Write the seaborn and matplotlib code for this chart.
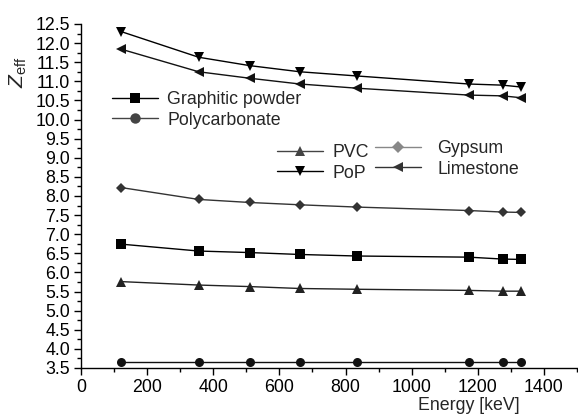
import matplotlib
matplotlib.use("Agg")
import matplotlib.pyplot as plt
from matplotlib.ticker import MultipleLocator, FormatStrFormatter
from matplotlib.lines import Line2D
import seaborn as sns
import pandas as pd

energy = [122, 356, 511, 662, 835, 1173, 1275, 1332]
graphitic_powder = [6.74, 6.56, 6.52, 6.47, 6.43, 6.40, 6.35, 6.34]
polycarbonate = [3.67, 3.67, 3.67, 3.67, 3.67, 3.67, 3.67, 3.67]
pvc = [5.76, 5.67, 5.63, 5.58, 5.56, 5.53, 5.51, 5.51]
pop = [12.30, 11.63, 11.41, 11.25, 11.14, 10.93, 10.90, 10.85]
gypsum = [8.22, 7.91, 7.83, 7.77, 7.71, 7.62, 7.58, 7.57]
limestone = [11.84, 11.25, 11.08, 10.93, 10.82, 10.64, 10.62, 10.57]

series = {
    "Graphitic powder": graphitic_powder,
    "Polycarbonate": polycarbonate,
    "PVC": pvc,
    "PoP": pop,
    "Gypsum": gypsum,
    "Limestone": limestone,
}
markers = {"Graphitic powder": "s", "Polycarbonate": "o", "PVC": "^",
           "PoP": "v", "Gypsum": "D", "Limestone": "<"}
colors = {"Graphitic powder": "#000000", "Polycarbonate": "#111111", "PVC": "#222222",
          "PoP": "#000000", "Gypsum": "#333333", "Limestone": "#111111"}
leg_colors = {"Graphitic powder": "#000000", "Polycarbonate": "#444444", "PVC": "#444444",
              "PoP": "#000000", "Gypsum": "#888888", "Limestone": "#333333"}
msize = {"Graphitic powder": 6.5, "Polycarbonate": 6.5, "PVC": 6.5,
         "PoP": 6.5, "Gypsum": 5.5, "Limestone": 6.5}

rows = []
for name, vals in series.items():
    for e, v in zip(energy, vals):
        rows.append({"Energy": e, "Zeff": v, "Material": name})
df = pd.DataFrame(rows)

sns.set_theme(style="ticks")
plt.rcParams["font.family"] = ["Liberation Sans", "DejaVu Sans"]
plt.rcParams["mathtext.fontset"] = "custom"
plt.rcParams["mathtext.it"] = "Liberation Sans:italic"
plt.rcParams["mathtext.rm"] = "Liberation Sans"

fig = plt.figure(figsize=(5.78, 4.17), dpi=100)
ax = fig.add_axes([81 / 578, 1 - 368 / 417, (577 - 81) / 578, (368 - 24) / 417])

for name in series:
    sub = df[df["Material"] == name]
    sns.lineplot(data=sub, x="Energy", y="Zeff", ax=ax, color=colors[name],
                 marker=markers[name], markersize=msize[name], linewidth=1.0,
                 markeredgewidth=0, legend=False)

ax.set_xlim(0, 1500)
ax.set_ylim(3.5, 12.5)
ax.xaxis.set_major_locator(MultipleLocator(200))
ax.xaxis.set_minor_locator(MultipleLocator(100))
ax.yaxis.set_major_locator(MultipleLocator(0.5))
ax.yaxis.set_minor_locator(MultipleLocator(0.25))
ax.yaxis.set_major_formatter(FormatStrFormatter("%.1f"))
ax.set_xticks([0, 200, 400, 600, 800, 1000, 1200, 1400])
for s in ["top", "right"]:
    ax.spines[s].set_visible(False)
for s in ["left", "bottom"]:
    ax.spines[s].set_linewidth(1.0)
    ax.spines[s].set_color("black")
ax.tick_params(which="major", direction="out", length=5, width=1, labelsize=12.8,
               colors="black", pad=3)
ax.tick_params(which="minor", direction="out", length=3, width=1, colors="black")
ax.set_xlabel("Energy [keV]", fontsize=12.8)
ax.set_ylabel(r"$Z_{\mathrm{eff}}$", fontsize=15)
ax.xaxis.set_label_coords(0.782, -0.085)
ax.yaxis.set_label_coords(-0.105, 0.86)

def handle(name):
    return Line2D([], [], color=leg_colors[name], marker=markers[name],
                  markersize=msize[name] + 1, linewidth=1.0, markeredgewidth=0)

common = dict(frameon=False, fontsize=12.8, borderpad=0, borderaxespad=0,
              handlelength=2.6, handletextpad=0.5, labelspacing=0.2,
              loc="upper left")
leg1 = fig.legend([handle("Graphitic powder"), handle("Polycarbonate")],
                  ["Graphitic powder", "Polycarbonate"],
                  bbox_to_anchor=(112 / 578, 1 - 91 / 417), **common)
leg2 = fig.legend([handle("PVC"), handle("PoP")], ["PVC", "PoP"],
                  bbox_to_anchor=(277 / 578, 1 - 144 / 417), **common)
c3 = dict(common)
c3["handletextpad"] = 0.9
leg3 = fig.legend([handle("Gypsum"), handle("Limestone")], ["Gypsum", "Limestone"],
                  bbox_to_anchor=(375 / 578, 1 - 140 / 417), **c3)

fig.savefig("out.png", dpi=100)
